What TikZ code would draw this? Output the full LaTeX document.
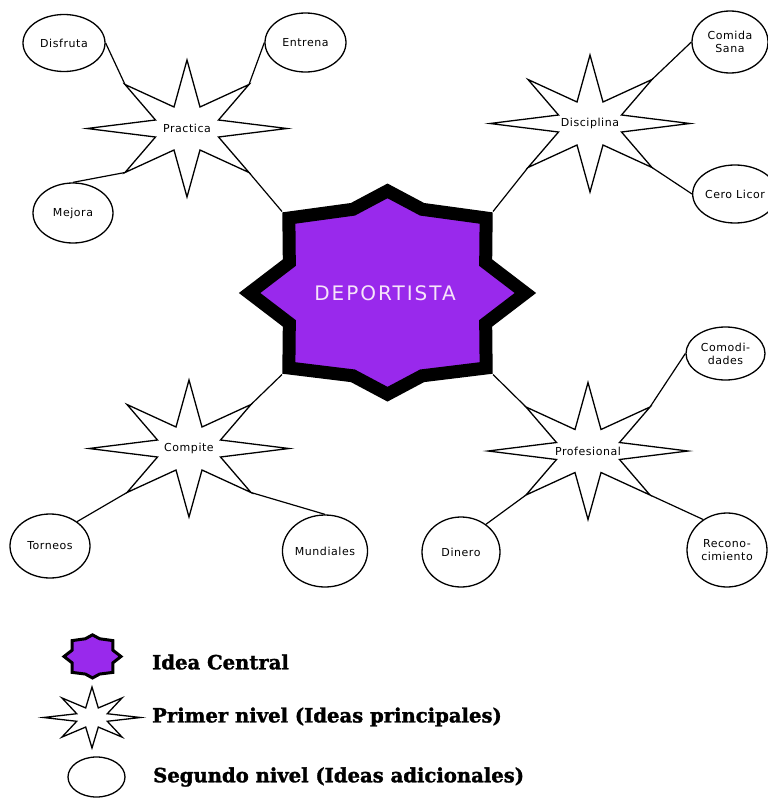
\documentclass[tikz,border=0pt]{standalone}
\usepackage{fontspec}
\usetikzlibrary{shapes.geometric}
\newfontfamily\lblfont[LetterSpace=5]{DejaVu Sans}
\newfontfamily\bigfont[LetterSpace=10]{DejaVu Sans}
\newfontfamily\legfont[UprightFont={* Bold}, UprightFeatures={FakeBold=1.5}]{DejaVu Serif}
\definecolor{ideapurple}{RGB}{153,41,236}
\definecolor{ideatext}{RGB}{246,228,250}

% eight-pointed central star (outer outline 295 x 221), centred at #1,#2
\newcommand\drawocta[5]{%
  \begin{scope}[shift={(#1,#2)},xscale=#3,yscale=#4]
    \draw[#5] (0,-111) -- (37,-91) -- (105.5,-81.5) -- (105,-33) -- (147.5,0)
      -- (105,33) -- (105.5,81.5) -- (37,90) -- (0,110) -- (-37,90)
      -- (-105.5,81.5) -- (-105,33) -- (-147.5,0) -- (-105,-33)
      -- (-105.5,-81.5) -- (-37,-91) -- cycle;
  \end{scope}}

% thin eight-pointed burst (200 x 137); #1 = name prefix for its diagonal tips
\newcommand\drawburst[5]{%
  \begin{scope}[shift={(#2,#3)},xscale=#4,yscale=#5]
    \draw[burst] (0,-68.5) -- (13,-21.5) -- (62,-44) -- (31.5,-8.5) -- (100,0)
      -- (31.5,8.5) -- (62,44) -- (13,21.5) -- (0,68.5) -- (-13,21.5)
      -- (-62,44) -- (-31.5,8.5) -- (-100,0) -- (-31.5,-8.5) -- (-62,-44)
      -- (-13,-21.5) -- cycle;
    \coordinate (#1-tl) at (-62,-44);
    \coordinate (#1-tr) at (62,-44);
    \coordinate (#1-bl) at (-62,44);
    \coordinate (#1-br) at (62,44);
  \end{scope}}

\begin{document}
\begin{tikzpicture}[x=1pt,y=-1pt,
  bubble/.style={ellipse, draw, line width=1.3pt, fill=white, inner sep=0pt,
    align=center, font=\lblfont\fontsize{11}{13}\selectfont},
  burst/.style={draw, line width=1.3pt, fill=white, line join=miter},
  link/.style={line width=1.2pt},
  starlabel/.style={inner sep=0pt, font=\lblfont\fontsize{11}{13}\selectfont},
  ideastar/.style={draw=black, fill=ideapurple, line join=miter},
  legend/.style={anchor=west, inner sep=0pt,
    font=\legfont\fontsize{19.6}{23}\selectfont}]

\fill[white] (0,0) rectangle (768,798);
\useasboundingbox (0,0) rectangle (768,798);

% corners of the central star where the first-level links meet it
\coordinate (c-tl) at (282,211.5);
\coordinate (c-tr) at (493,211.5);
\coordinate (c-bl) at (282,374.5);
\coordinate (c-br) at (493,374.5);

% second-level ideas
\node[bubble, minimum width=82pt, minimum height=57pt] (disfruta) at (64,43) {Disfruta};
\node[bubble, minimum width=81pt, minimum height=59pt] (entrena) at (305.5,42.5) {Entrena};
\node[bubble, minimum width=80pt, minimum height=60pt] (mejora) at (73,213) {Mejora};
\node[bubble, minimum width=76pt, minimum height=62pt] (comida) at (730,42) {Comida\\Sana};
\node[bubble, minimum width=80pt, minimum height=58pt] (cero) at (735,194) {Cero Licor};
\node[bubble, minimum width=79pt, minimum height=53pt] (comodidades) at (725.5,353.5) {Comodi-\\dades};
\node[bubble, minimum width=80pt, minimum height=74pt] (recon) at (727,550) {Recono-\\cimiento};
\node[bubble, minimum width=78pt, minimum height=70pt] (dinero) at (461,552) {Dinero};
\node[bubble, minimum width=80pt, minimum height=64pt] (torneos) at (50,546) {Torneos};
\node[bubble, minimum width=80pt, minimum height=72pt] (mundiales) at (325,551) {Mundiales};

% first-level ideas
\drawburst{pr}{187}{128.5}{1}{1}
\drawburst{di}{590}{123.5}{1}{1}
\drawburst{co}{189}{448.5}{1}{1}
\drawburst{pf}{588}{451}{1}{1}
\node[starlabel] (practica) at (187,128.5) {Practica};
\node[starlabel] (disciplina) at (590,123.5) {Disciplina};
\node[starlabel] (compite) at (189,448.5) {Compite};
\node[starlabel] (profesional) at (588,451) {Profesional};

% links
\draw[link] (pr-tl) -- (disfruta.east);
\draw[link] (pr-tr) -- (entrena.west);
\draw[link] (pr-bl) -- (mejora.north);
\draw[link] (pr-br) -- (c-tl);
\draw[link] (di-tr) -- (comida.west);
\draw[link] (di-br) -- (cero.west);
\draw[link] (di-bl) -- (c-tr);
\draw[link] (co-tr) -- (c-bl);
\draw[link] (co-bl) -- (torneos.42);
\draw[link] (co-br) -- (mundiales.north);
\draw[link] (pf-tl) -- (c-br);
\draw[link] (pf-tr) -- (comodidades.west);
\draw[link] (pf-bl) -- (dinero.48);
\draw[link] (pf-br) -- (recon.128);

% central idea
\drawocta{387.5}{293}{0.935}{0.92}{ideastar, line width=13pt}
\node[inner sep=0pt, text=ideatext, font=\bigfont\fontsize{20}{24}\selectfont]
  (central) at (385,293) {DEPORTISTA};

% legend
\drawocta{92.5}{656.5}{0.193}{0.195}{ideastar, line width=3pt}
\drawburst{lg}{92}{717.5}{0.485}{0.445}
\node[bubble, minimum width=57pt, minimum height=40pt] (legbubble) at (96.5,777) {};
\node[legend] (leg1) at (152,662) {Idea Central};
\node[legend] (leg2) at (152,717) {Primer nivel (Ideas principales)};
\node[legend] (leg3) at (153,777) {Segundo nivel (Ideas adicionales)};
\end{tikzpicture}
\end{document}
